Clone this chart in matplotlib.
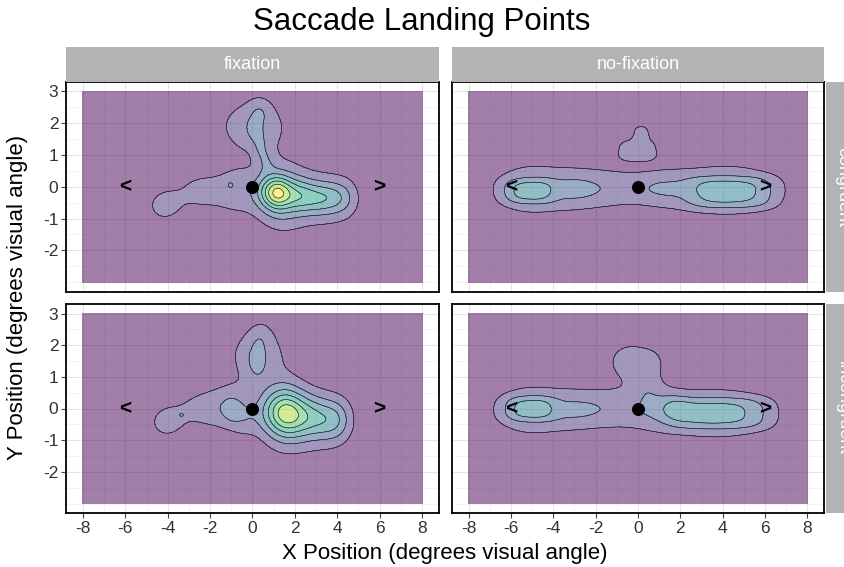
import numpy as np
import matplotlib
matplotlib.use("Agg")
import matplotlib.pyplot as plt
from matplotlib.colors import to_rgba

plt.rcParams['font.family'] = ['Liberation Sans', 'DejaVu Sans']

# ---------------- data ----------------
col_labels = ['fixation', 'no-fixation']
row_labels = ['congruent', 'incongruent']
x_ticks = [-8, -6, -4, -2, 0, 2, 4, 6, 8]
y_ticks = [-2, -1, 0, 1, 2, 3]
fix_x = [0]
fix_y = [0]
target_x = [-6, 6]
target_y = [0, 0]
target_labels = ['<', '>']

# density contour breaks (shared by all panels)
density_breaks = [1, 2, 3, 4, 5, 6, 7]

# landing density read from the picture as blobs:
# centre (cx, cy), spread (sx, sy), height h, flatness p (2 = gaussian)
# fixation / congruent
fc_cx = [1.15, 0.6, 1.2, 1.8, 2.4, 3.0, 3.6, 4.2, 1.3, 3.5, 4.5, -0.7, -2.4, -4.2, -1.05, 0.05, 0.35, 0.05, 0.35, 0.65]
fc_cy = [-0.18, -0.15, -0.2, -0.25, -0.3, -0.35, -0.35, -0.35, -0.3, -0.4, -0.35, -0.1, -0.15, -0.6, 0.07, 1.9, 2.45, 1.75, 1.25, 0.8]
fc_sx = [0.4, 0.4, 0.4, 0.4, 0.4, 0.4, 0.4, 0.4, 0.9, 1.2, 0.5, 0.7, 1.0, 0.6, 0.15, 1.15, 0.4, 0.22, 0.25, 0.3]
fc_sy = [0.35, 0.35, 0.35, 0.35, 0.35, 0.35, 0.35, 0.35, 0.75, 0.8, 0.45, 0.6, 0.5, 0.38, 0.1, 0.6, 0.3, 0.25, 0.3, 0.3]
fc_h = [2.6, 1.5, 1.3, 1.7, 1.85, 1.75, 1.6, 1.0, 2.4, 1.2, 0.5, 1.2, 1.3, 1.35, 0.55, 1.85, 0.8, 0.5, 0.85, 0.95]
fc_p = [2] * 20

# fixation / incongruent
fi_cx = [1.55, 0.7, 1.3, 1.9, 2.5, 3.1, 3.7, 4.2, 1.5, 3.4, -0.9, -1.0, -0.35, -2.3, -4.1, -3.34, 0.25, 0.2, 0.4, 1.5]
fi_cy = [-0.15, -0.1, -0.15, -0.2, -0.25, -0.3, -0.35, -0.35, -0.3, -0.4, 0.05, -0.05, -0.35, 0.0, -0.45, -0.2, 1.7, 1.42, 2.35, 0.45]
fi_sx = [0.5, 0.4, 0.4, 0.4, 0.4, 0.4, 0.4, 0.4, 0.9, 1.2, 0.75, 0.28, 0.5, 1.1, 0.6, 0.15, 1.05, 0.35, 0.4, 0.7]
fi_sy = [0.45, 0.45, 0.45, 0.45, 0.45, 0.45, 0.45, 0.45, 0.75, 0.8, 0.55, 0.28, 0.4, 0.5, 0.38, 0.08, 0.65, 0.45, 0.32, 0.45]
fi_h = [1.2, 1.0, 1.6, 1.8, 1.7, 1.6, 1.5, 1.0, 2.3, 1.2, 1.2, 0.55, 0.75, 1.3, 1.3, 0.9, 1.6, 0.9, 0.7, 0.6]
fi_p = [2] * 20

# no-fixation / congruent
nc_cx = [-5.0, -5.15, -3.0, -1.6, 1.1, 4.2, 4.4, -0.03, 0.15]
nc_cy = [-0.08, -0.14, -0.08, -0.05, -0.05, -0.1, -0.18, 1.16, 1.7]
nc_sx = [1.5, 0.95, 0.8, 1.3, 1.1, 2.2, 1.7, 0.85, 0.33]
nc_sy = [0.62, 0.3, 0.4, 0.5, 0.4, 0.65, 0.42, 0.3, 0.2]
nc_h = [1.9, 1.7, 0.75, 1.5, 1.3, 1.9, 1.6, 1.55, 1.5]
nc_p = [2, 3, 2, 2, 2, 2, 4, 3, 2.5]

# no-fixation / incongruent
ni_cx = [-5.0, -5.1, -3.0, -1.6, 0.9, 3.7, 3.9, 1.7, -0.3, 0.45, 0.7]
ni_cy = [-0.05, 0.0, -0.05, 0.0, -0.05, -0.15, -0.15, 0.0, 1.5, 0.7, 1.45]
ni_sx = [1.5, 0.95, 0.8, 1.3, 1.0, 2.3, 1.9, 0.5, 0.85, 0.55, 0.4]
ni_sy = [0.62, 0.3, 0.4, 0.5, 0.45, 0.65, 0.42, 0.3, 0.45, 0.35, 0.3]
ni_h = [1.9, 1.7, 0.6, 1.5, 1.0, 1.9, 1.5, 1.0, 1.65, 0.9, 0.7]
ni_p = [2, 3, 2, 2, 2, 2, 4, 2, 2, 2, 2]

panels = {
    (0, 0): (fc_cx, fc_cy, fc_sx, fc_sy, fc_h, fc_p),
    (0, 1): (nc_cx, nc_cy, nc_sx, nc_sy, nc_h, nc_p),
    (1, 0): (fi_cx, fi_cy, fi_sx, fi_sy, fi_h, fi_p),
    (1, 1): (ni_cx, ni_cy, ni_sx, ni_sy, ni_h, ni_p),
}

# ---------------- figure ----------------
W, H = 845, 567
fig = plt.figure(figsize=(W / 100, H / 100), dpi=100)

def fx(px):
    return px / W

def fy(py):
    return 1 - py / H

col_x = [(66, 439), (451.7, 824.3)]
row_y = [(81.7, 291.7), (304, 513)]

gx = np.linspace(-8, 8, 401)
gy = np.linspace(-3, 3, 181)
GX, GY = np.meshgrid(gx, gy)

n_bands = len(density_breaks) + 1
cmap = plt.get_cmap('viridis')
band_colors = [to_rgba(cmap(i / (n_bands - 1)), 0.5) for i in range(n_bands)]
levels = [-1.0] + density_breaks + [1e6]

strip_col = '#B3B3B3'

for (r, c), (cx, cy, sx, sy, h, pp) in panels.items():
    x0, x1 = col_x[c]
    y0, y1 = row_y[r]
    ax = fig.add_axes([fx(x0), fy(y1), fx(x1) - fx(x0), fy(y0) - fy(y1)])
    Z = np.zeros_like(GX)
    for a, b, s1, s2, hh, p in zip(cx, cy, sx, sy, h, pp):
        Z += hh * np.exp(-0.5 * (np.abs((GX - a) / s1) ** p +
                                 np.abs((GY - b) / s2) ** p))
    ax.contourf(GX, GY, Z, levels=levels, colors=band_colors, zorder=1)
    ax.contour(GX, GY, Z, levels=density_breaks, colors='#1a1a1a',
               linewidths=0.45, zorder=2)
    ax.scatter(fix_x, fix_y, s=70, color='black', zorder=4)
    for tx, ty, tl in zip(target_x, target_y, target_labels):
        ax.text(tx, ty, tl, fontsize=15, fontweight='bold', ha='center',
                va='center', zorder=4)
    ax.set_xlim(-8.8, 8.8)
    ax.set_ylim(-3.3, 3.3)
    ax.set_xticks(x_ticks)
    ax.set_yticks(y_ticks)
    ax.set_xticks(np.arange(-7, 8, 2), minor=True)
    ax.set_yticks(np.arange(-3, 3.01, 0.5), minor=True)
    ax.set_axisbelow(True)
    ax.grid(True, which='major', color='#E5E5E5', linewidth=0.8, zorder=0)
    ax.grid(True, which='minor', color='#EFEFEF', linewidth=0.5, zorder=0)
    ax.tick_params(which='minor', length=0)
    ax.tick_params(which='major', length=3.5, width=0.8, color='#444444',
                   labelsize=12.5, labelcolor='#333333', pad=2)
    if r == 0:
        ax.set_xticklabels([])
        ax.tick_params(axis='x', length=0)
    else:
        ax.set_xticklabels([str(v) for v in x_ticks])
    if c == 1:
        ax.set_yticklabels([])
        ax.tick_params(axis='y', length=0)
    else:
        ax.set_yticklabels([str(v) for v in y_ticks])
    for sp in ax.spines.values():
        sp.set_color('black')
        sp.set_linewidth(1.3)
        sp.set_zorder(5)

    if r == 0:
        sax = fig.add_axes([fx(x0), fy(81.7), fx(x1) - fx(x0), fy(47) - fy(81.7)])
        sax.set_facecolor(strip_col)
        sax.set_xticks([]); sax.set_yticks([])
        for sp in sax.spines.values():
            sp.set_visible(False)
        sax.text(0.5, 0.5, col_labels[c], color='white', fontsize=13,
                 ha='center', va='center', transform=sax.transAxes)
    if c == 1:
        rax = fig.add_axes([fx(826), fy(y1), fx(860) - fx(826), fy(y0) - fy(y1)])
        rax.set_facecolor(strip_col)
        rax.set_xticks([]); rax.set_yticks([])
        for sp in rax.spines.values():
            sp.set_visible(False)
        rax.text(0.5, 0.5, row_labels[r], color='white', fontsize=13,
                 ha='center', va='center', rotation=-90,
                 transform=rax.transAxes)

fig.text(fx(421.5), fy(22), 'Saccade Landing Points', fontsize=22.5,
         ha='center', va='center')
fig.text(fx(445), fy(553), 'X Position (degrees visual angle)', fontsize=16,
         ha='center', va='center')
fig.text(fx(18), fy(297), 'Y Position (degrees visual angle)', fontsize=16,
         ha='center', va='center', rotation=90)

fig.savefig('out.png', dpi=100)
